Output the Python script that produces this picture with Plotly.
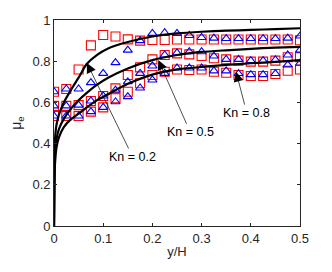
import plotly.graph_objects as go

# ---- data ----
y_over_H = [0, 0.025, 0.05, 0.075, 0.1, 0.125, 0.15, 0.175, 0.2, 0.225, 0.25,
            0.275, 0.3, 0.325, 0.35, 0.375, 0.4, 0.425, 0.45, 0.475, 0.5]

red_kn02 = [0.652, 0.665, 0.76, 0.877, 0.927, 0.92, 0.906, 0.90, 0.903, 0.903, 0.905,
            0.905, 0.905, 0.905, 0.905, 0.905, 0.905, 0.905, 0.905, 0.905, 0.902]
blue_kn02 = [0.652, 0.665, 0.665, 0.696, 0.741, 0.793, 0.854, 0.90, 0.935, 0.938, 0.935,
             0.925, 0.915, 0.912, 0.91, 0.91, 0.91, 0.91, 0.91, 0.912, 0.922]

red_kn05 = [0.583, 0.583, 0.587, 0.607, 0.631, 0.668, 0.733, 0.77, 0.809, 0.83, 0.838,
            0.833, 0.825, 0.814, 0.809, 0.803, 0.798, 0.798, 0.803, 0.819, 0.82]
blue_kn05 = [0.583, 0.583, 0.587, 0.607, 0.631, 0.66, 0.70, 0.741, 0.777, 0.83, 0.84,
             0.846, 0.846, 0.825, 0.809, 0.809, 0.803, 0.803, 0.806, 0.83, 0.854]

red_kn08 = [0.534, 0.534, 0.534, 0.555, 0.576, 0.62, 0.652, 0.693, 0.733, 0.749, 0.76,
            0.757, 0.76, 0.749, 0.744, 0.733, 0.728, 0.728, 0.738, 0.754, 0.76]
blue_kn08 = [0.534, 0.534, 0.534, 0.555, 0.576, 0.603, 0.628, 0.67, 0.709, 0.741, 0.767,
             0.767, 0.767, 0.753, 0.753, 0.74, 0.735, 0.735, 0.74, 0.782, 0.79]

# analytical curves
curve_x = [0, 0.0005, 0.001, 0.002, 0.005, 0.01, 0.02, 0.033, 0.05, 0.066, 0.087,
           0.11, 0.15, 0.2, 0.25, 0.3, 0.35, 0.4, 0.45, 0.5]
curve_kn02 = [0, 0.2, 0.32, 0.42, 0.49, 0.54, 0.6, 0.655, 0.72, 0.785, 0.83,
              0.862, 0.893, 0.92, 0.935, 0.943, 0.948, 0.952, 0.956, 0.96]
curve_kn05 = [0, 0.16, 0.26, 0.35, 0.42, 0.47, 0.52, 0.565, 0.61, 0.645, 0.685,
              0.72, 0.765, 0.805, 0.83, 0.845, 0.853, 0.86, 0.866, 0.87]
curve_kn08 = [0, 0.14, 0.22, 0.3, 0.38, 0.43, 0.48, 0.515, 0.545, 0.575, 0.61,
              0.64, 0.69, 0.735, 0.76, 0.772, 0.782, 0.79, 0.797, 0.805]

labels = ["Kn = 0.2", "Kn = 0.5", "Kn = 0.8"]
label_pos = [(0.16, 0.335), (0.277, 0.455), (0.392, 0.548)]
arrow_head = [(0.067, 0.791), (0.212, 0.806), (0.37, 0.749)]

FONT = "Liberation Sans, Arial, sans-serif"

fig = go.Figure()

for reds in [red_kn02, red_kn05, red_kn08]:
    fig.add_trace(go.Scatter(x=y_over_H, y=reds, mode="markers",
                             marker=dict(symbol="square-open", size=9, color="#ff0000",
                                         line=dict(width=1.1, color="#ff0000")),
                             showlegend=False))
for blues in [blue_kn02, blue_kn05, blue_kn08]:
    fig.add_trace(go.Scatter(x=y_over_H, y=blues, mode="markers",
                             marker=dict(symbol="triangle-up-open", size=8, color="#0000ff",
                                         line=dict(width=1.1, color="#0000ff")),
                             showlegend=False))

for cy in [curve_kn02, curve_kn05, curve_kn08]:
    fig.add_trace(go.Scatter(x=curve_x, y=cy, mode="lines",
                             line=dict(color="black", width=2.2, shape="spline", smoothing=0.6),
                             showlegend=False))

for lab, (lx, ly), (hx, hy) in zip(labels, label_pos, arrow_head):
    fig.add_annotation(x=hx, y=hy, ax=lx, ay=ly, xref="x", yref="y", axref="x", ayref="y",
                       text=lab, showarrow=True, arrowhead=2, arrowsize=2.8, arrowwidth=0.7,
                       arrowcolor="black",
                       font=dict(family=FONT, size=12.5, color="black"))

axis_common = dict(showgrid=False, zeroline=False, showline=True, linecolor="#262626",
                   linewidth=0.8, mirror="ticks", ticks="inside", ticklen=3,
                   tickcolor="#262626", tickwidth=0.8, automargin=False,
                   tickfont=dict(family=FONT, size=13, color="#262626"))

fig.update_xaxes(range=[0, 0.5], tickvals=[0, 0.1, 0.2, 0.3, 0.4, 0.5],
                 ticktext=["0", "0.1", "0.2", "0.3", "0.4", "0.5"],
                 title=dict(text="y/H", standoff=2,
                            font=dict(family=FONT, size=13, color="#262626")),
                 **axis_common)
fig.update_yaxes(range=[0, 1], tickvals=[0, 0.2, 0.4, 0.6, 0.8, 1],
                 ticktext=["0", "0.2", "0.4", "0.6", "0.8", "1"],
                 title=dict(text="μ<sub>e</sub>", standoff=11,
                            font=dict(family=FONT, size=14, color="#262626")),
                 **axis_common)

# the page body adds an 8px offset, so the figure is sized/margined to compensate
fig.update_layout(width=324, height=264, margin=dict(l=46, r=32, t=12, b=46),
                  plot_bgcolor="white", paper_bgcolor="white")

fig.write_html("out.html")
